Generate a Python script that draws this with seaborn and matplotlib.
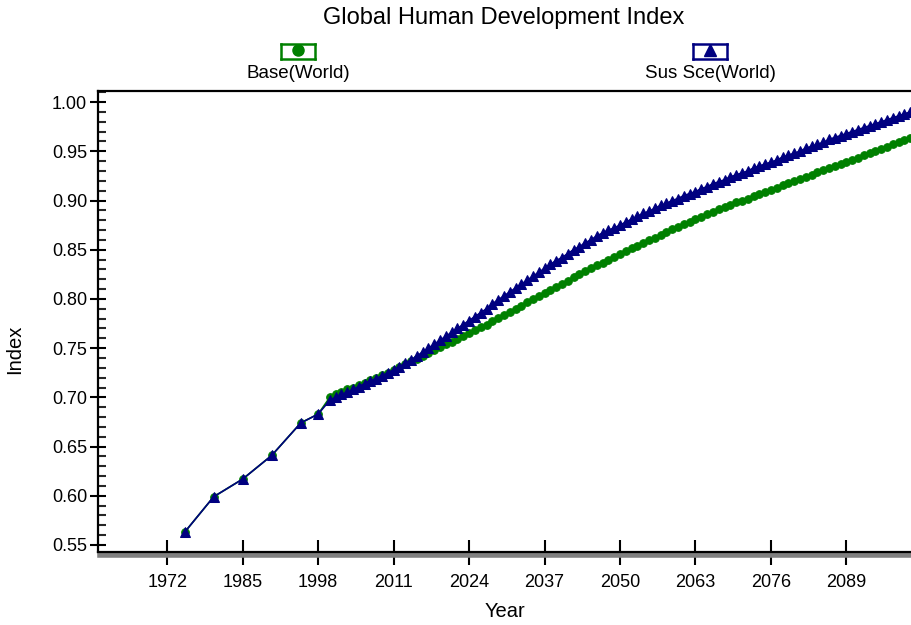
import numpy as np
import pandas as pd
import matplotlib
matplotlib.use("Agg")
import matplotlib.pyplot as plt
import matplotlib.patheffects as pe
from matplotlib.ticker import MultipleLocator, FormatStrFormatter
import seaborn as sns

# historical points shared by both scenarios
hist_years = [1975, 1980, 1985, 1990, 1995, 1998]
hist_index = [0.563, 0.599, 0.617, 0.641, 0.674, 0.683]

# annual projections 2000-2100
proj_years = list(range(2000, 2101))
base_world = [
    0.700, 0.703, 0.705, 0.708, 0.710, 0.713, 0.715, 0.718, 0.720, 0.723,
    0.725, 0.728, 0.731, 0.734, 0.737, 0.739, 0.742, 0.745, 0.748, 0.751,
    0.754, 0.756, 0.759, 0.762, 0.765, 0.768, 0.771, 0.774, 0.778, 0.781,
    0.784, 0.787, 0.790, 0.793, 0.797, 0.800, 0.803, 0.806, 0.809, 0.812,
    0.815, 0.818, 0.822, 0.825, 0.828, 0.831, 0.834, 0.837, 0.840, 0.843,
    0.846, 0.849, 0.852, 0.854, 0.857, 0.860, 0.862, 0.865, 0.868, 0.871,
    0.873, 0.876, 0.878, 0.881, 0.883, 0.886, 0.888, 0.891, 0.893, 0.895,
    0.898, 0.900, 0.902, 0.905, 0.907, 0.909, 0.911, 0.913, 0.916, 0.918,
    0.920, 0.922, 0.924, 0.926, 0.929, 0.931, 0.933, 0.935, 0.937, 0.939,
    0.941, 0.943, 0.946, 0.948, 0.950, 0.952, 0.954, 0.957, 0.959, 0.961,
    0.963,
]
sus_world = [
    0.697, 0.700, 0.703, 0.705, 0.708, 0.711, 0.714, 0.717, 0.719, 0.722,
    0.725, 0.728, 0.731, 0.735, 0.738, 0.742, 0.746, 0.750, 0.754, 0.758,
    0.762, 0.766, 0.770, 0.774, 0.778, 0.782, 0.786, 0.790, 0.795, 0.799,
    0.803, 0.807, 0.811, 0.815, 0.819, 0.823, 0.827, 0.831, 0.835, 0.839,
    0.842, 0.846, 0.850, 0.853, 0.857, 0.860, 0.864, 0.867, 0.870, 0.872,
    0.875, 0.878, 0.881, 0.884, 0.887, 0.889, 0.892, 0.895, 0.897, 0.900,
    0.902, 0.905, 0.907, 0.909, 0.912, 0.914, 0.917, 0.919, 0.921, 0.924,
    0.926, 0.928, 0.930, 0.933, 0.935, 0.937, 0.939, 0.941, 0.944, 0.946,
    0.948, 0.950, 0.953, 0.955, 0.957, 0.959, 0.962, 0.964, 0.966, 0.968,
    0.970, 0.972, 0.974, 0.976, 0.978, 0.980, 0.982, 0.984, 0.986, 0.988,
    0.990,
]

x_ticks = [1972, 1985, 1998, 2011, 2024, 2037, 2050, 2063, 2076, 2089]

GREEN = "#008000"
NAVY = "#000080"

sns.set_theme(style="ticks")
plt.rcParams["font.family"] = ["Liberation Sans", "DejaVu Sans"]
plt.rcParams["text.color"] = "black"
plt.rcParams["axes.labelcolor"] = "black"

base_df = pd.DataFrame({"Year": hist_years + proj_years,
                        "Index": hist_index + base_world})
sus_df = pd.DataFrame({"Year": hist_years + proj_years,
                       "Index": hist_index + sus_world})

fig = plt.figure(figsize=(9.12, 6.25), dpi=100)
ax = fig.add_axes([0.107, 0.117, 0.893, 0.737])

sns.lineplot(data=base_df, x="Year", y="Index", ax=ax, color=GREEN,
             marker="o", markersize=5.5, markeredgecolor=GREEN,
             linewidth=1.2)
sns.lineplot(data=sus_df, x="Year", y="Index", ax=ax, color=NAVY,
             marker="^", markersize=7.5, markeredgecolor=NAVY,
             linewidth=1.2)

ax.set_xlim(1960, 2100.3)
ax.set_ylim(0.543, 1.011)
ax.set_xticks(x_ticks)
ax.yaxis.set_major_locator(MultipleLocator(0.05))
ax.yaxis.set_minor_locator(MultipleLocator(0.01))
ax.yaxis.set_major_formatter(FormatStrFormatter("%.2f"))

ax.tick_params(axis="y", which="major", direction="inout", length=11,
               width=1.5, labelsize=13, pad=2, colors="black")
ax.tick_params(axis="y", which="minor", direction="in", length=6, width=1.5)
ax.tick_params(axis="x", which="major", direction="inout", length=18,
               width=1.5, labelsize=13, pad=7, colors="black")

for side in ["left", "top", "bottom"]:
    ax.spines[side].set_linewidth(1.6)
    ax.spines[side].set_color("black")
ax.spines["right"].set_visible(False)
ax.spines["bottom"].set_path_effects([
    pe.SimpleLineShadow(offset=(2, -2.5), shadow_color="#808080", alpha=1,
                        linewidth=4),
    pe.Normal(),
])

ax.set_xlabel("Year", fontsize=14.5, labelpad=8)
ax.set_ylabel("Index", fontsize=14.5)
ax.yaxis.set_label_coords(-0.09, 0.44)

fig.text(504 / 912, 1 - 18 / 625, "Global Human Development Index",
         ha="center", va="center", fontsize=17)

# legend: boxed marker above each label
for cx, label, color, mk, ms in [(298, "Base(World)", GREEN, "o", 8),
                                 (710, "Sus Sce(World)", NAVY, "^", 9)]:
    lax = fig.add_axes([(cx - 17) / 912, 1 - 59 / 625, 34 / 912, 15 / 625])
    lax.set_xlim(0, 1)
    lax.set_ylim(0, 1)
    lax.plot([0.5], [0.62], marker=mk, markersize=ms, color=color,
             linestyle="none")
    lax.set_xticks([])
    lax.set_yticks([])
    for s in lax.spines.values():
        s.set_color(color)
        s.set_linewidth(1.8)
    fig.text(cx / 912, 1 - 73 / 625, label, ha="center", va="center",
             fontsize=13.5)

fig.savefig("out.png", dpi=100)
